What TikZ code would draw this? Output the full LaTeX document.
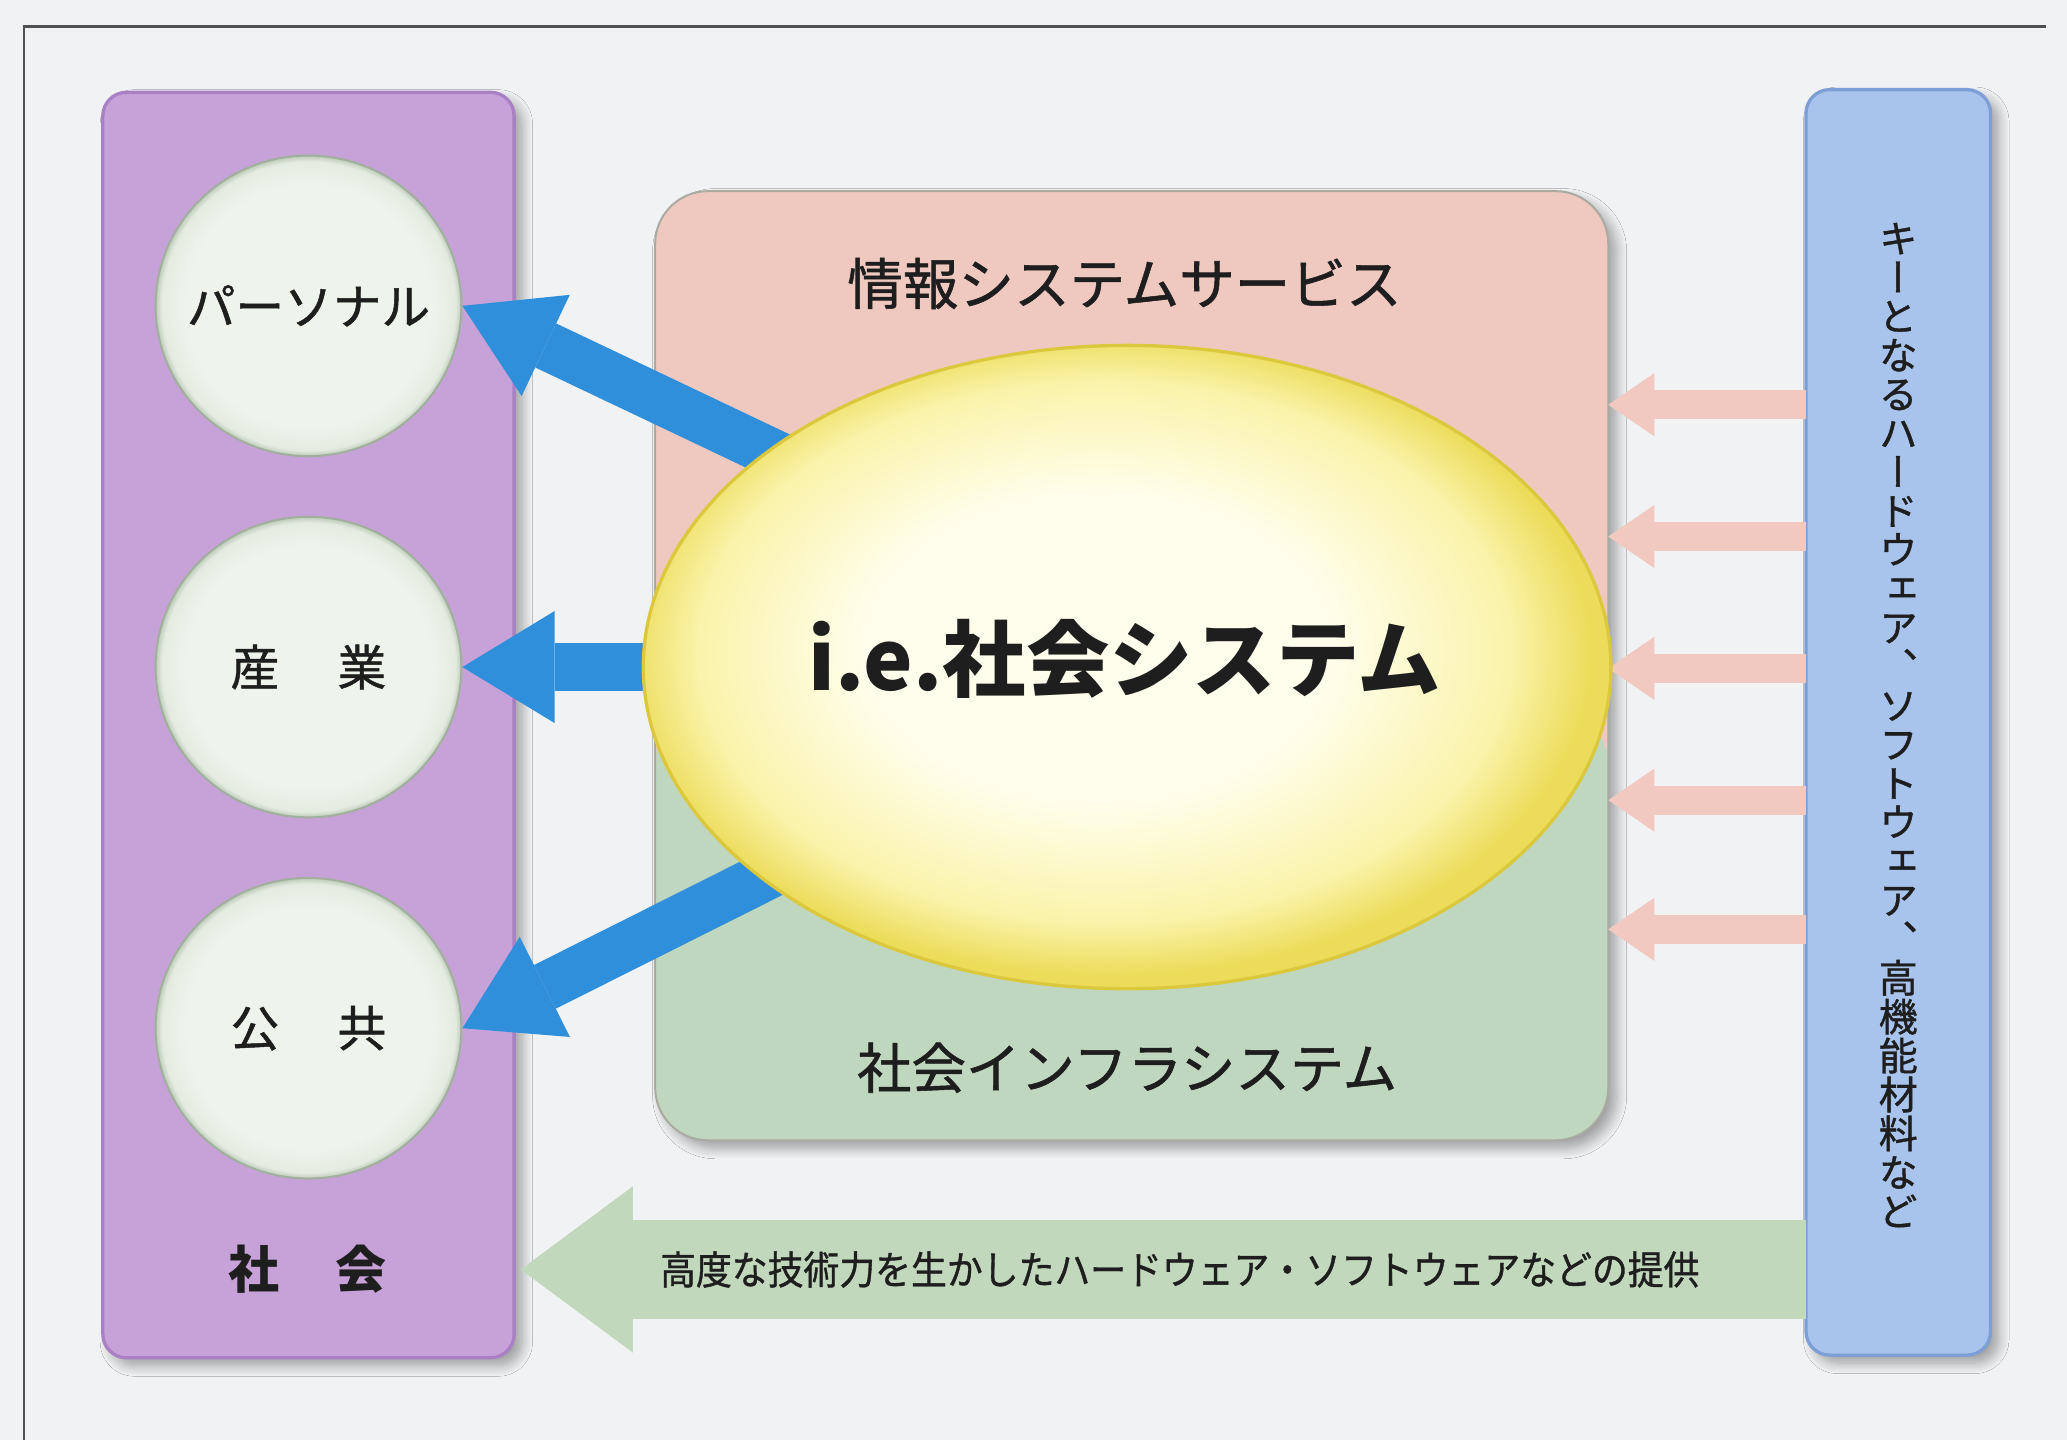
\documentclass[tikz,border=0pt]{standalone}
\usepackage{fontspec}
\newfontfamily\jp[FakeBold=1]{Noto Sans CJK JP}
\newfontfamily\jpb{Noto Sans CJK JP}
\newfontfamily\jpv[RawFeature=+vert,FakeBold=1]{Noto Sans CJK JP}
\usetikzlibrary{arrows.meta,shapes.geometric,shadows.blur,calc}
\definecolor{bgcol}{RGB}{241,242,244}
\definecolor{framecol}{RGB}{80,80,80}
\definecolor{socpurple}{RGB}{198,162,216}
\definecolor{socline}{RGB}{170,128,196}
\definecolor{discin}{RGB}{238,244,236}
\definecolor{discmid}{RGB}{228,236,225}
\definecolor{discedge}{RGB}{188,202,184}
\definecolor{discline}{RGB}{160,176,156}
\definecolor{boxpink}{RGB}{239,201,191}
\definecolor{boxgreen}{RGB}{191,214,191}
\definecolor{boxline}{RGB}{170,170,160}
\definecolor{ellin}{RGB}{255,254,236}
\definecolor{ellmid}{RGB}{250,243,170}
\definecolor{elledge}{RGB}{236,220,90}
\definecolor{ellline}{RGB}{220,200,60}
\definecolor{arrblue}{RGB}{47,143,219}
\definecolor{arrpink}{RGB}{241,201,192}
\definecolor{keyblue}{RGB}{168,196,236}
\definecolor{keyline}{RGB}{125,159,214}
\definecolor{arrgreen}{RGB}{194,216,188}
\definecolor{txt}{RGB}{30,30,30}
\pgfdeclareradialshading{discshade}{\pgfpoint{0bp}{0bp}}{color(0bp)=(discin); color(20bp)=(discin); color(24bp)=(discmid); color(25bp)=(discedge); color(50bp)=(discedge)}
\pgfdeclareradialshading{ellshade}{\pgfpoint{-2bp}{2bp}}{color(0bp)=(ellin); color(12bp)=(ellin); color(21bp)=(ellmid); color(25bp)=(elledge); color(50bp)=(elledge)}
\pgfdeclarelayer{bgl}
\pgfdeclarelayer{arrl}
\pgfsetlayers{bgl,arrl,main}
\begin{document}
\begin{tikzpicture}[x=0.2mm,y=-0.2mm,
  panel/.style={rounded corners=3.6mm, inner sep=0pt, outer sep=0pt,
    blur shadow={shadow xshift=1.2mm, shadow yshift=-1.2mm, shadow blur steps=10, shadow blur radius=1.6mm, shadow opacity=35}},
  disc/.style={ellipse, minimum width=46.4mm, minimum height=45.6mm, inner sep=0pt,
    shading=discshade, draw=discline, line width=0.3mm, text=txt, font=\jp\fontsize{21pt}{21pt}\selectfont},
  bluearr/.style={draw=arrblue, line width=7.4mm, -{Triangle[length=14mm, width=17mm, line width=0pt]}, shorten <=-4mm},
  pinkarr/.style={draw=arrpink, line width=4.4mm, -{Triangle[length=7mm, width=9.6mm, line width=0pt]}},
  greenarr/.style={draw=arrgreen, line width=15mm, -{Triangle[length=17mm, width=25.2mm, line width=0pt]}, shorten >=1mm},
  lbl/.style={text=txt, inner sep=0pt}
]
\begin{pgfonlayer}{bgl}
\fill[bgcol] (0,0) rectangle (1568,1092);
\useasboundingbox (0,0) rectangle (1568,1092);
\draw[framecol, line width=0.35mm] (18,1092) -- (18,20) -- (1552,20);
% society panel
\node[panel, fill=socpurple, draw=socline, line width=0.5mm, minimum width=62.4mm, minimum height=192mm] (soc) at (234,550) {};
\node[disc] (c1) at (234,232) {\makebox[0pt]{パーソナル}};
\node[disc] (c2) at (234,506) {\makebox[0pt]{産\hspace{1.2em}業}};
\node[disc] (c3) at (234,780) {\makebox[0pt]{公\hspace{1.2em}共}};
\node[lbl, font=\jpb\bfseries\fontsize{22pt}{22pt}\selectfont] (soctext) at (233,963) {社\hspace{1.1em}会};
% system box
\node[panel, fill=boxpink, draw=boxline, line width=0.3mm, rounded corners=8mm,
  minimum width=144.6mm, minimum height=144mm,
  path picture={\fill[boxgreen] ([yshift=-7mm]path picture bounding box.west) rectangle (path picture bounding box.south east);}] (box) at (858.5,505) {};
% key panel
\node[panel, fill=keyblue, draw=keyline, line width=0.5mm, minimum width=28mm, minimum height=192mm] (key) at (1440,548) {};
\end{pgfonlayer}
% central ellipse
\node[ellipse, minimum width=146.8mm, minimum height=97.6mm, inner sep=0pt, shading=ellshade, draw=ellline, line width=0.5mm] (ell) at (855,506) {};
\node[lbl, font=\jpb\bfseries\fontsize{36pt}{36pt}\selectfont] (title) at (853,500) {i.e.社会システム};
\node[lbl, font=\jp\fontsize{24pt}{24pt}\selectfont] (info) at (853,215) {情報システムサービス};
\node[lbl, font=\jp\fontsize{23.5pt}{23.5pt}\selectfont] (infra) at (855,810) {社会インフラシステム};
\node[lbl, align=center, font=\jpv\fontsize{16.8pt}{16.8pt}\selectfont] (vtext) at (1440,550)
  {キ\\ー\\と\\な\\る\\ハ\\ー\\ド\\ウ\\ェ\\ア\\、\\ソ\\フ\\ト\\ウ\\ェ\\ア\\、\\高\\機\\能\\材\\料\\な\\ど};
\coordinate (p1) at (1220,307);
\coordinate (p2) at (1220,407);
\coordinate (p3) at (1220,507);
\coordinate (p4) at (1220,607);
\coordinate (p5) at (1220,705);
\begin{pgfonlayer}{arrl}
\draw[bluearr] (ell.149) -- (c1.east);
\draw[bluearr] (ell.west) -- (c2.east);
\draw[bluearr] (ell.210) -- (c3.east);
\foreach \p in {p1,p2,p3,p4,p5}{\draw[pinkarr] (key.west |- \p) -- (\p);}
\draw[greenarr] (key.west |- soctext) -- (soc.east |- soctext);
\end{pgfonlayer}
\node[lbl, xscale=0.91, font=\jp\fontsize{17pt}{17pt}\selectfont] (gtext) at (895,963) {高度な技術力を生かしたハードウェア・ソフトウェアなどの提供};
\end{tikzpicture}
\end{document}
